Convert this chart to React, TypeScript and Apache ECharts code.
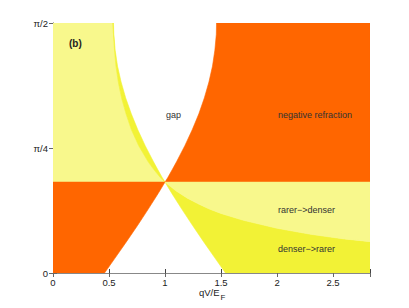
import React, { useEffect, useRef } from "react";
import * as echarts from "echarts";

// Upper half (theta above the crossing angle): boundaries
const thetaUpper = [0.571, 0.6, 0.65, 0.7, 0.8, 0.9, 1.0, 1.1, 1.2, 1.3, 1.4, 1.5, 1.5708];
const gapLeftUpper = [1.0, 0.975, 0.935, 0.896, 0.823, 0.757, 0.699, 0.649, 0.608, 0.576, 0.555, 0.543, 0.54];
const gapRightUpper = [1.0, 1.025, 1.065, 1.104, 1.177, 1.243, 1.302, 1.351, 1.392, 1.424, 1.445, 1.458, 1.46];
const bandOuterUpper = [1.0, 0.958, 0.9, 0.848, 0.765, 0.7, 0.652, 0.612, 0.583, 0.562, 0.549, 0.54, 0.533];

// Lower half (theta below the crossing angle)
const thetaLower = [0, 0.1, 0.2, 0.3, 0.4, 0.5, 0.571];
const lowerLeft = [0.46, 0.56, 0.659, 0.756, 0.849, 0.939, 1.0];
const lowerRight = [1.54, 1.44, 1.341, 1.245, 1.151, 1.061, 1.0];

// rarer->denser / denser->rarer boundary (lower right)
const curveX = [1.0, 1.1, 1.2, 1.3, 1.4, 1.5, 1.7, 2.0, 2.3, 2.6, 2.83];
const curveTheta = [0.571, 0.515, 0.47, 0.433, 0.401, 0.374, 0.331, 0.281, 0.243, 0.214, 0.197];

const xMax = 2.83;
const thetaMax = 1.5708;
const thetaC = 0.571;

const xTickLabels = ["0", "0.5", "1", "1.5", "2", "2.5"];
const yTickLabels = ["0", "π/4", "π/2"];

const ORANGE = "#ff6600";
const LIGHT = "#f8f88c";
const BRIGHT = "#f2f236";

function zip(xs: number[], ys: number[]) {
  return xs.map((x, i) => [x, ys[i]]);
}

function buildRegions() {
  const outer = zip(bandOuterUpper, thetaUpper);
  const gapL = zip(gapLeftUpper, thetaUpper);
  const gapR = zip(gapRightUpper, thetaUpper);
  const lowL = zip(lowerLeft, thetaLower);
  const lowR = zip(lowerRight, thetaLower);
  const curve = zip(curveX, curveTheta);
  return [
    { color: LIGHT, points: [[0, thetaC], [0, thetaMax], ...outer.slice().reverse()] },
    { color: BRIGHT, points: [...outer, ...gapL.slice().reverse()] },
    { color: ORANGE, points: [...gapR, [xMax, thetaMax], [xMax, thetaC]] },
    { color: ORANGE, points: [[0, 0], ...lowL, [0, thetaC]] },
    { color: BRIGHT, points: [...lowR.slice().reverse(), [xMax, 0], ...curve.slice().reverse()] },
    { color: LIGHT, points: [...curve, [xMax, thetaC]] },
  ];
}

export default function App() {
  const ref = useRef<HTMLDivElement>(null);
  useEffect(() => {
    if (!ref.current) return;
    const chart = echarts.init(ref.current, undefined, { renderer: "svg" });
    const regions = buildRegions();
    const font = "Liberation Sans, Arial, Helvetica, sans-serif";
    const xLabel = (v: number) => {
      const k = Math.round(v / 0.5);
      if (Math.abs(v - k * 0.5) > 1e-6 || k >= xTickLabels.length) return "";
      return xTickLabels[k];
    };
    const yLabel = (v: number) => {
      const k = Math.round(v / (Math.PI / 4));
      if (Math.abs(v - k * (Math.PI / 4)) > 1e-3) return "";
      return yTickLabels[k] ?? "";
    };
    chart.setOption({
      animation: false,
      backgroundColor: "#ffffff",
      grid: { left: 53, right: 39, top: 23, bottom: 35, containLabel: false },
      xAxis: [
        {
          type: "value", position: "bottom", min: 0, max: xMax, interval: 0.5,
          axisLine: { show: true, lineStyle: { color: "#222", width: 1 } },
          axisTick: { show: true, inside: true, length: 4, lineStyle: { color: "#444" } },
          axisLabel: { margin: 4, color: "#222", fontSize: 9.5, fontFamily: font, formatter: xLabel },
          splitLine: { show: false },
        },
        {
          type: "value", position: "top", min: 0, max: xMax, interval: 0.5,
          axisLine: { show: true, lineStyle: { color: "#888", width: 1 } },
          axisTick: { show: true, inside: true, length: 4, lineStyle: { color: "#666" } },
          axisLabel: { show: false },
          splitLine: { show: false },
        },
      ],
      yAxis: [
        {
          type: "value", position: "left", min: 0, max: Math.PI / 2, interval: Math.PI / 4,
          axisLine: { show: true, lineStyle: { color: "#888", width: 1 } },
          axisTick: { show: true, inside: true, length: 4, lineStyle: { color: "#666" } },
          axisLabel: { margin: 5, color: "#222", fontSize: 9.5, fontFamily: font, formatter: yLabel },
          splitLine: { show: false },
        },
        {
          type: "value", position: "right", min: 0, max: Math.PI / 2, interval: Math.PI / 4,
          axisLine: { show: true, lineStyle: { color: "#888", width: 1 } },
          axisTick: { show: true, inside: true, length: 4, lineStyle: { color: "#666" } },
          axisLabel: { show: false },
          splitLine: { show: false },
        },
      ],
      series: [
        {
          type: "custom",
          xAxisIndex: 0,
          yAxisIndex: 0,
          clip: true,
          z: 1,
          data: regions.map(() => [0, 0]),
          renderItem: (params: any, api: any) => {
            const r = regions[params.dataIndex];
            const pts = r.points.map((p: number[]) => api.coord(p));
            return {
              type: "polygon",
              shape: { points: pts },
              style: { fill: r.color, stroke: r.color, lineWidth: 0.6 },
            };
          },
        },
      ],
      graphic: [
        { type: "text", x: 69, y: 43, style: { text: "(b)", fontSize: 10, fontWeight: "bold", fontFamily: font, fill: "#222", verticalAlign: "middle" }, z: 10 },
        { type: "text", x: 166, y: 115, style: { text: "gap", fontSize: 9, fontFamily: font, fill: "#333", verticalAlign: "middle" }, z: 10 },
        { type: "text", x: 278, y: 115, style: { text: "negative refraction", fontSize: 9, fontFamily: font, fill: "#333", verticalAlign: "middle" }, z: 10 },
        { type: "text", x: 278, y: 210, style: { text: "rarer−>denser", fontSize: 9, fontFamily: font, fill: "#333", verticalAlign: "middle" }, z: 10 },
        { type: "text", x: 278, y: 249, style: { text: "denser−>rarer", fontSize: 9, fontFamily: font, fill: "#333", verticalAlign: "middle" }, z: 10 },
        { type: "text", x: 199, y: 292, style: { text: "qV/E", fontSize: 9.5, fontFamily: font, fill: "#222", verticalAlign: "middle" }, z: 10 },
        { type: "text", x: 220.5, y: 297.5, style: { text: "F", fontSize: 8, fontFamily: font, fill: "#222", verticalAlign: "middle" }, z: 10 },
      ],
    });
    return () => chart.dispose();
  }, []);
  return <div ref={ref} style={{ width: 409, height: 308, position: "absolute", left: 0, top: 0 }} />;
}
